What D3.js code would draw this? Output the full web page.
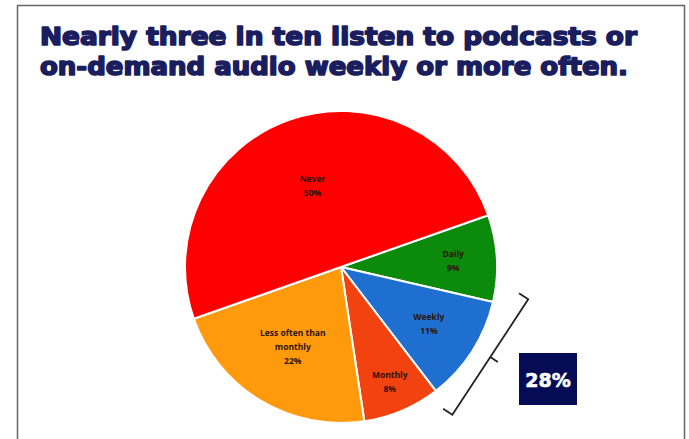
<!DOCTYPE html>
<html>
<head>
<meta charset="utf-8">
<script src="https://cdn.jsdelivr.net/npm/d3@7"></script>
<style>
  body { margin: 0; background: #fff; }
  svg { display: block; }
</style>
</head>
<body>
<svg id="chart" width="689" height="439"></svg>
<script>
// Data
const categories = ["Daily", "Weekly", "Monthly", "Less often than monthly", "Never"];
const shares = [9, 11, 8, 22, 50];
const labelLines = [["Daily"], ["Weekly"], ["Monthly"], ["Less often than", "monthly"], ["Never"]];
const bracketTotal = "28%";
const titleLines = [
  "Nearly three in ten listen to podcasts or",
  "on-demand audio weekly or more often."
];

// Colours per slice
const colours = ["#0b8a0b", "#1f6fd1", "#f2420f", "#ff9a0c", "#fe0000"];
// how far out each label sits (fraction of radius), like Excel's best fit
const labelFrac = [0.72, 0.67, 0.80, 0.60, 0.55];

const svg = d3.select("#chart");
const W = 689, H = 439;

// frame
svg.append("path")
  .attr("d", `M17.5,${H} V5.5 H684.5 V${H}`)
  .attr("fill", "none")
  .attr("stroke", "#666")
  .attr("stroke-width", 1.5);

// title
const titleWidths = [597, 588];
svg.selectAll("text.title")
  .data(titleLines)
  .join("text")
    .attr("class", "title")
    .attr("x", 40)
    .attr("y", (d, i) => 45 + i * 30)
    .attr("textLength", (d, i) => titleWidths[i])
    .attr("lengthAdjust", "spacingAndGlyphs")
    .style("font-family", "'DejaVu Sans', sans-serif")
    .style("font-weight", "bold")
    .style("font-size", "24px")
    .style("fill", "#1b1e5e")
    .style("stroke", "#1b1e5e")
    .style("stroke-width", 1.6)
    .style("stroke-linejoin", "round")
    .text(d => d);

// pie
const cx = 341, cy = 267, r = 156;
const a0 = 70.6 * Math.PI / 180;
const pie = d3.pie().sort(null).startAngle(a0).endAngle(a0 + 2 * Math.PI);
const arcs = pie(shares);
const arc = d3.arc().innerRadius(0).outerRadius(r);

const g = svg.append("g").attr("transform", `translate(${cx},${cy})`);

g.selectAll("path")
  .data(arcs)
  .join("path")
    .attr("d", arc)
    .attr("fill", (d, i) => colours[i])
    .attr("stroke", "#fff")
    .attr("stroke-width", 2)
    .attr("stroke-linejoin", "round")
    .append("title")
    .text((d, i) => `${categories[i]}: ${shares[i]}%`);

// slice labels
g.selectAll("text.lbl")
  .data(arcs)
  .join("text")
    .attr("class", "lbl")
    .attr("text-anchor", "middle")
    .style("font-family", "'Open Sans', sans-serif")
    .style("font-weight", "700")
    .style("font-size", "8.5px")
    .style("fill", "#2a1408")
    .each(function(d, i) {
      const la = d3.arc().innerRadius(r * labelFrac[i]).outerRadius(r * labelFrac[i]);
      const [lx, ly] = la.centroid(d);
      const lines = labelLines[i].concat([shares[i] + "%"]);
      const t = d3.select(this);
      lines.forEach((s, j) => {
        t.append("tspan")
          .attr("x", lx)
          .attr("y", ly + (j - (lines.length - 1) / 2) * 14 + 3)
          .text(s);
      });
    });

// bracket covering the weekly-or-more group
const polar = (deg, rad) => [cx + rad * Math.sin(deg * Math.PI / 180), cy - rad * Math.cos(deg * Math.PI / 180)];
const bTop = polar(99.8, 190), bBot = polar(143, 185);
const dx = bTop[0] - bBot[0], dy = bTop[1] - bBot[1];
const len = Math.hypot(dx, dy);
const nx = dy / len, ny = -dx / len; // perpendicular
const hook = 11, tick = 9;
const mid = [(bTop[0] + bBot[0]) / 2, (bTop[1] + bBot[1]) / 2];
svg.append("path")
  .attr("d", `M${bTop[0] + nx * hook},${bTop[1] + ny * hook} L${bTop[0]},${bTop[1]} L${bBot[0]},${bBot[1]} L${bBot[0] + nx * hook},${bBot[1] + ny * hook}
              M${mid[0]},${mid[1]} L${mid[0] - nx * tick},${mid[1] - ny * tick}`)
  .attr("fill", "none")
  .attr("stroke", "#222")
  .attr("stroke-width", 1.8);

// 28% box
svg.append("rect")
  .attr("x", 519).attr("y", 353)
  .attr("width", 58).attr("height", 52)
  .attr("fill", "#050c55");
svg.append("text")
  .attr("x", 548).attr("y", 387)
  .attr("text-anchor", "middle")
  .style("font-family", "'DejaVu Sans', sans-serif")
  .style("font-weight", "bold")
  .style("font-size", "19px")
  .style("fill", "#fff")
  .style("stroke", "#fff")
  .style("stroke-width", 0.6)
  .text(bracketTotal);
</script>
</body>
</html>
